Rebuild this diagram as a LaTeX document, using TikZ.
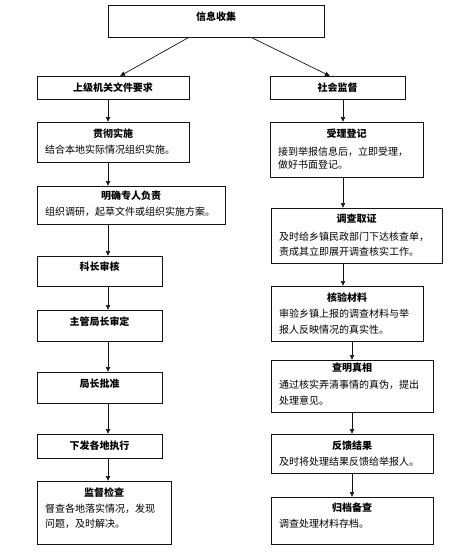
\documentclass[tikz,border=0pt]{standalone}
\usepackage{fontspec}
\usepackage{tikz}
\usetikzlibrary{arrows.meta,positioning}
\setmainfont{Noto Sans CJK SC}
\definecolor{flowLine}{RGB}{20,20,20}

\tikzset{
    box/.style={draw=flowLine, line width=0.8pt, inner sep=0pt, anchor=north west},
    ttl/.style={font=\fontsize{10}{12}\selectfont\bfseries, inner sep=0pt},
    txt/.style={font=\fontsize{10}{12}\selectfont, inner sep=0pt, anchor=west},
    flow/.style={-{Latex[length=5pt,width=5pt]}, line width=0.7pt, flowLine}
}

\begin{document}
\begin{tikzpicture}[x=1pt,y=-1pt]
    \useasboundingbox (0,0) rectangle (470,552);

    % top
    \node[box, minimum width=216, minimum height=32] (info) at (108,5) {};
    \node[ttl] (info-t) at (216,17) {信息收集};

    % left column
    \node[box, minimum width=152, minimum height=23] (sj) at (37,76) {};
    \node[ttl] (sj-t) at (113,87.5) {上级机关文件要求};

    \node[box, minimum width=152, minimum height=40] (gc) at (37,122) {};
    \node[ttl] (gc-t) at (113,134) {贯彻实施};
    \node[txt] (gc-b) at (45,150) {结合本地实际情况组织实施。};

    \node[box, minimum width=188, minimum height=38] (mq) at (37,186) {};
    \node[ttl] (mq-t) at (131,196) {明确专人负责};
    \node[txt] (mq-b) at (45,212) {组织调研，起草文件或组织实施方案。};

    \node[box, minimum width=125, minimum height=30] (kz) at (37,256) {};
    \node[ttl] (kz-t) at (99.5,267) {科长审核};

    \node[box, minimum width=125, minimum height=31] (zg) at (37,310) {};
    \node[ttl] (zg-t) at (99.5,322) {主管局长审定};

    \node[box, minimum width=125, minimum height=31] (jz) at (37,372) {};
    \node[ttl] (jz-t) at (99.5,384) {局长批准};

    \node[box, minimum width=125, minimum height=24] (xf) at (37,434) {};
    \node[ttl] (xf-t) at (99.5,446) {下发各地执行};

    \node[box, minimum width=134, minimum height=63] (jd) at (37,481) {};
    \node[ttl] (jd-t) at (104,493) {监督检查};
    \node[txt] (jd-b1) at (45,509) {督查各地落实情况，发现};
    \node[txt] (jd-b2) at (45,524) {问题，及时解决。};

    % right column
    \node[box, minimum width=135, minimum height=23] (sh) at (270,76) {};
    \node[ttl] (sh-t) at (337.5,87.5) {社会监督};

    \node[box, minimum width=153, minimum height=55] (sl) at (270,122) {};
    \node[ttl] (sl-t) at (346.5,134) {受理登记};
    \node[txt] (sl-b1) at (278,152) {接到举报信息后，立即受理，};
    \node[txt] (sl-b2) at (278,165) {做好书面登记。};

    \node[box, minimum width=171, minimum height=55] (dc) at (271,208) {};
    \node[ttl] (dc-t) at (356.5,219) {调查取证};
    \node[txt] (dc-b1) at (279,237) {及时给乡镇民政部门下达核查单，};
    \node[txt] (dc-b2) at (279,252) {责成其立即展开调查核实工作。};

    \node[box, minimum width=152, minimum height=55] (hy) at (271,286) {};
    \node[ttl] (hy-t) at (347,298) {核验材料};
    \node[txt] (hy-b1) at (279,314) {审验乡镇上报的调查材料与举};
    \node[txt] (hy-b2) at (279,330) {报人反映情况的真实性。};

    \node[box, minimum width=162, minimum height=52] (cm) at (271,360) {};
    \node[ttl] (cm-t) at (352,368) {查明真相};
    \node[txt] (cm-b1) at (279,385) {通过核实弄清事情的真伪，提出};
    \node[txt] (cm-b2) at (279,401) {处理意见。};

    \node[box, minimum width=162, minimum height=39] (fk) at (271,434) {};
    \node[ttl] (fk-t) at (352,446) {反馈结果};
    \node[txt] (fk-b) at (279,462) {及时将处理结果反馈给举报人。};

    \node[box, minimum width=162, minimum height=47] (gd) at (271,497) {};
    \node[ttl] (gd-t) at (352,508) {归档备查};
    \node[txt] (gd-b) at (279,524) {调查处理材料存档。};

    % connectors
    \coordinate (lcol) at (108,0);
    \coordinate (rcol) at (343,0);
    \coordinate (rcol2) at (352,0);
    \coordinate (infoL) at (188,0);
    \coordinate (infoR) at (252,0);
    \coordinate (sjIn) at (120,0);
    \coordinate (shIn) at (330,0);

    \draw[flow] (info.south -| infoL) -- (sj.north -| sjIn);
    \draw[flow] (info.south -| infoR) -- (sh.north -| shIn);

    \foreach \a/\b in {sj/gc, gc/mq, mq/kz, kz/zg, zg/jz, jz/xf, xf/jd}
        \draw[flow] (\a.south -| lcol) -- (\b.north -| lcol);

    \foreach \a/\b in {sh/sl, sl/dc, dc/hy}
        \draw[flow] (\a.south -| rcol) -- (\b.north -| rcol);
    \foreach \a/\b in {hy/cm, cm/fk, fk/gd}
        \draw[flow] (\a.south -| rcol2) -- (\b.north -| rcol2);
\end{tikzpicture}
\end{document}
